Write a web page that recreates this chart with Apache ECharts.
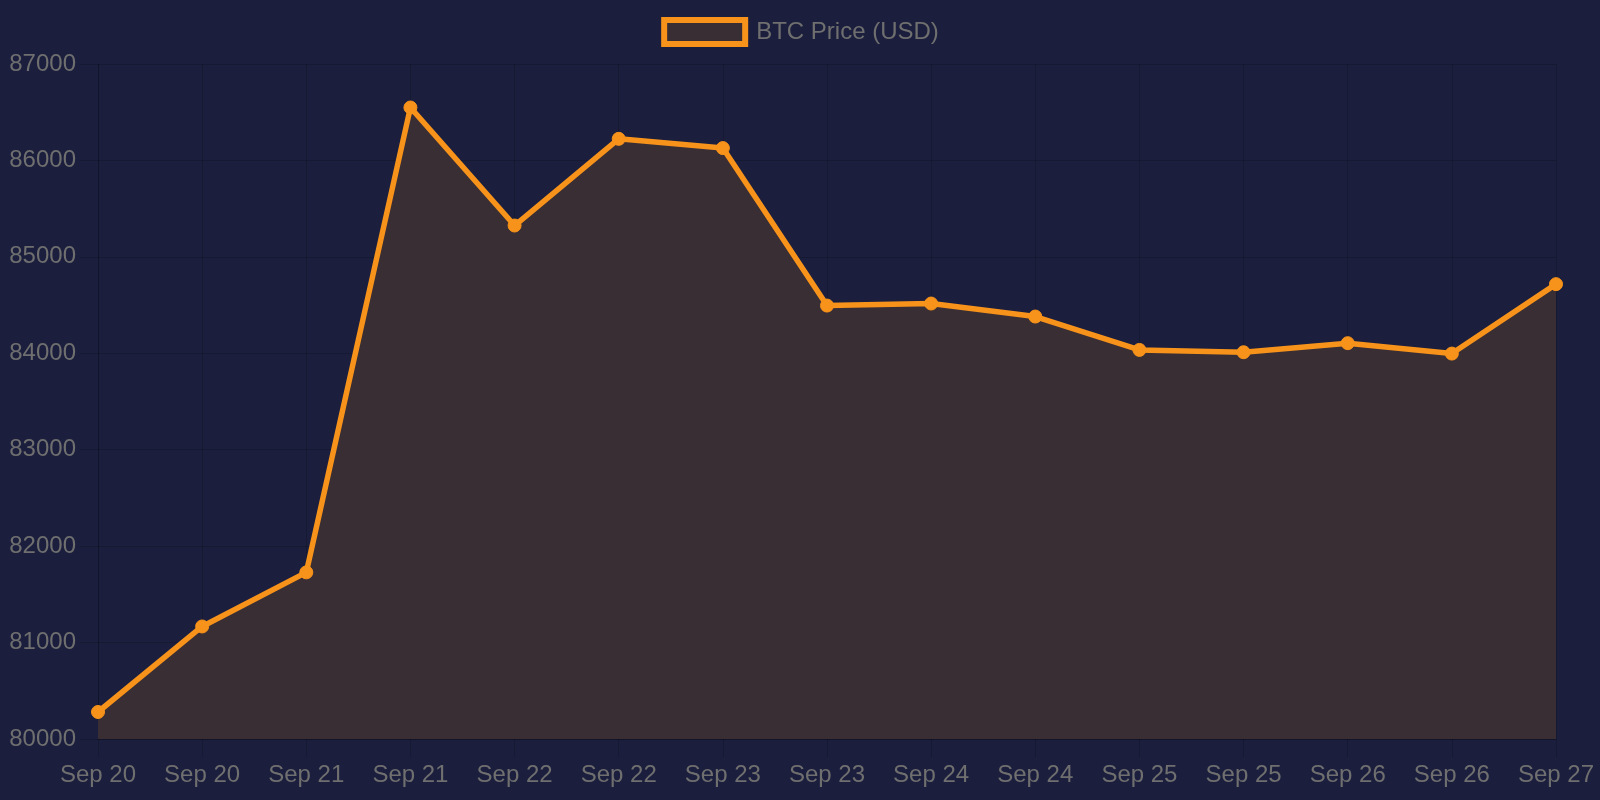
<!DOCTYPE html>
<html>
<head>
<meta charset="utf-8">
<script src="https://cdn.jsdelivr.net/npm/echarts@6/dist/echarts.min.js"></script>
<style>
  html, body { margin: 0; padding: 0; background: #1b1f3d; }
  #chart { width: 1600px; height: 800px; }
</style>
</head>
<body>
<div id="chart"></div>
<script>
// BTC price line — labels and values.
const labels = ['Sep 20', 'Sep 20', 'Sep 21', 'Sep 21', 'Sep 22', 'Sep 22', 'Sep 23', 'Sep 23',
  'Sep 24', 'Sep 24', 'Sep 25', 'Sep 25', 'Sep 26', 'Sep 26', 'Sep 27'];
const prices = [80280, 81167, 81728, 86549, 85325, 86224, 86128, 84495,
  84516, 84381, 84035, 84011, 84105, 83997, 84717];
const yTicks = { min: 80000, max: 87000, step: 1000 };

const FONT = "'Liberation Sans', Arial, Helvetica, sans-serif";
const ORANGE = '#f7931a';
const FILL = '#3a2e35';
const GRID = 'rgba(0,0,0,0.18)';
const TEXT = '#6f6f6f';

const chart = echarts.init(document.getElementById('chart'), null, { width: 1600, height: 800 });
chart.setOption({
  animation: false,
  backgroundColor: '#1b1f3d',
  textStyle: { fontFamily: FONT },
  legend: {
    top: 12, left: 'center',
    icon: 'rect', itemWidth: 81, itemHeight: 24, itemGap: 10,
    itemStyle: { color: FILL, borderColor: ORANGE, borderWidth: 6 },
    textStyle: { color: TEXT, fontSize: 24, fontFamily: FONT, padding: [0, 0, 0, 6] },
    data: ['BTC Price (USD)'],
  },
  grid: { left: 98, right: 44, top: 64, bottom: 61, containLabel: false },
  xAxis: {
    type: 'category', data: labels, boundaryGap: false,
    axisLine: { show: true, lineStyle: { color: GRID, width: 1 } },
    axisTick: { show: true, interval: 0, length: 18, lineStyle: { color: GRID } },
    axisLabel: { interval: 0, color: TEXT, fontSize: 24, margin: 24, fontFamily: FONT },
    splitLine: { show: true, interval: 0, lineStyle: { color: GRID } },
  },
  yAxis: {
    type: 'value', min: yTicks.min, max: yTicks.max, interval: yTicks.step,
    axisLine: { show: true, lineStyle: { color: GRID } },
    axisTick: { show: true, length: 18, lineStyle: { color: GRID } },
    axisLabel: { color: TEXT, fontSize: 24, margin: 22, fontFamily: FONT, formatter: (v) => String(v) },
    splitLine: { show: true, lineStyle: { color: GRID } },
  },
  series: [{
    name: 'BTC Price (USD)', type: 'line', data: prices,
    symbol: 'circle', symbolSize: 13,
    lineStyle: { color: ORANGE, width: 5.5 },
    itemStyle: { color: ORANGE, borderColor: ORANGE },
    areaStyle: { color: FILL, opacity: 1 },
  }],
});
</script>
</body>
</html>
